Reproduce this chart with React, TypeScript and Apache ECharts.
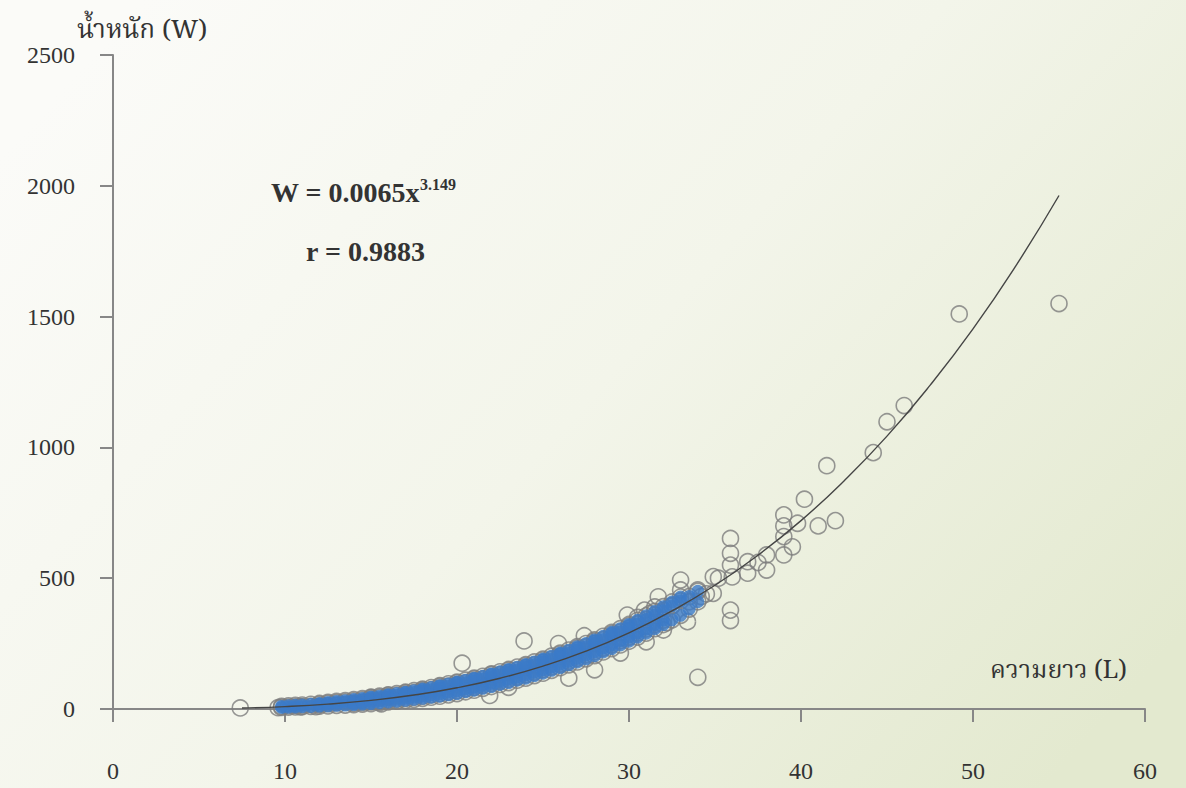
import React, { useEffect, useRef } from "react";
import * as echarts from "echarts";

// Axis ticks
const xTicks = [0, 10, 20, 30, 40, 50, 60];
const yTicks = [0, 500, 1000, 1500, 2000, 2500];

// Fitted curve W = 0.0065 L^3.149
const trendL = [7.5, 10, 12.5, 15, 17.5, 20, 22.5, 25, 27.5, 30, 32.5, 35, 37.5, 40, 42.5, 45, 47.5, 50, 52.5, 55];
const trendW = [3.7, 9.2, 18.5, 32.8, 53.3, 81.2, 117.7, 164, 221, 291, 375, 473, 588, 720, 872, 1043, 1237, 1453, 1695, 1963];

// Dense cloud of fish (blue band)
const denseL = [
  9.8, 9.8, 10.2, 10.2, 10.6, 10.6, 11.0, 11.0, 11.5, 11.5,
  12.0, 12.0, 12.0, 12.5, 12.5, 12.5, 13.0, 13.0, 13.0, 13.5, 13.5, 13.5,
  14.0, 14.0, 14.0, 14.0, 14.5, 14.5, 14.5, 14.5,
  15.0, 15.0, 15.0, 15.0, 15.0, 15.5, 15.5, 15.5, 15.5, 16.0, 16.0, 16.0, 16.0, 16.0, 16.5, 16.5, 16.5, 16.5,
  17.0, 17.0, 17.0, 17.0, 17.0, 17.5, 17.5, 17.5, 17.5, 18.0, 18.0, 18.0, 18.0, 18.0, 18.5, 18.5, 18.5, 18.5,
  19.0, 19.0, 19.0, 19.0, 19.0, 19.5, 19.5, 19.5, 19.5, 20.0, 20.0, 20.0, 20.0, 20.0, 20.5, 20.5, 20.5, 20.5,
  21.0, 21.0, 21.0, 21.0, 21.0, 21.5, 21.5, 21.5, 21.5, 22.0, 22.0, 22.0, 22.0, 22.0, 22.5, 22.5, 22.5, 22.5,
  23.0, 23.0, 23.0, 23.0, 23.0, 23.5, 23.5, 23.5, 23.5, 24.0, 24.0, 24.0, 24.0, 24.0, 24.5, 24.5, 24.5, 24.5,
  25.0, 25.0, 25.0, 25.0, 25.0, 25.5, 25.5, 25.5, 25.5, 26.0, 26.0, 26.0, 26.0, 26.0, 26.5, 26.5, 26.5, 26.5,
  27.0, 27.0, 27.0, 27.0, 27.0, 27.5, 27.5, 27.5, 27.5, 28.0, 28.0, 28.0, 28.0, 28.0, 28.5, 28.5, 28.5, 28.5,
  29.0, 29.0, 29.0, 29.0, 29.0, 29.5, 29.5, 29.5, 29.5, 30.0, 30.0, 30.0, 30.0, 30.0, 30.5, 30.5, 30.5, 30.5,
  31.0, 31.0, 31.0, 31.0, 31.5, 31.5, 31.5, 31.5, 32.0, 32.0, 32.0, 32.0, 32.5, 32.5, 32.5,
  33.0, 33.0, 33.0, 33.5, 33.5, 34.0, 34.0
];
const denseW = [
  6, 10, 7, 12, 8, 14, 9, 15, 10, 18,
  11, 21, 18, 12, 25, 21, 14, 29, 24, 15, 32, 27,
  17, 36, 31, 22, 19, 40, 35, 25,
  21, 45, 39, 27, 43, 24, 49, 44, 30, 27, 54, 47, 34, 52, 30, 59, 53, 37,
  33, 64, 57, 41, 62, 37, 70, 63, 45, 41, 76, 68, 49, 73, 45, 82, 74, 54,
  49, 89, 80, 59, 86, 54, 96, 87, 65, 59, 103, 93, 70, 100, 66, 110, 100, 77,
  72, 118, 108, 83, 115, 79, 125, 115, 91, 86, 134, 123, 98, 131, 94, 142, 131, 106,
  101, 151, 140, 114, 148, 110, 160, 149, 122, 118, 170, 159, 131, 166, 128, 180, 169, 141,
  137, 191, 179, 151, 187, 148, 202, 190, 161, 158, 214, 202, 172, 210, 169, 225, 213, 183,
  180, 238, 225, 194, 233, 192, 250, 237, 207, 204, 264, 251, 219, 259, 218, 278, 265, 233,
  231, 293, 280, 246, 288, 245, 307, 294, 261, 259, 323, 309, 275, 318, 275, 339, 325, 291,
  290, 356, 342, 306, 307, 373, 359, 323, 323, 391, 376, 340, 341, 409, 394,
  358, 428, 413, 382, 430, 410, 450
];

// Individual fish outside the dense band
const sparseL = [
  7.4, 9.6, 10.9, 11.8,
  15.6, 20.3, 21.9, 23.0, 23.9, 25.9, 26.5, 27.4, 28.0, 29.5, 29.9,
  30.5, 30.9, 31.0, 31.2, 31.5, 31.7, 32.0, 32.2, 32.5, 33.0, 33.0, 33.4, 33.5, 34.0, 34.0,
  34.2, 34.5, 34.9, 34.9, 35.2, 35.9, 35.9, 35.9, 35.9, 35.9, 36.0, 36.9, 36.9, 37.5,
  38.0, 38.0, 39.0, 39.0, 39.0, 39.0, 39.5, 39.8, 40.2, 41.0, 41.5, 42.0,
  44.2, 45.0, 46.0, 49.2, 55.0
];
const sparseW = [
  4, 5, 8, 9,
  20, 175, 52, 83, 260, 250, 118, 280, 150, 214, 359,
  350, 378, 257, 365, 390, 429, 302, 330, 395, 493, 455, 334, 410, 455, 121,
  430, 440, 506, 442, 500, 652, 595, 550, 378, 338, 505, 563, 519, 560,
  531, 589, 742, 700, 659, 589, 620, 710, 802, 700, 930, 720,
  980, 1098, 1160, 1510, 1550
];

const pairs = (xs: number[], ys: number[]) => xs.map((x, i) => [x, ys[i]]);

const SERIF = "Liberation Serif";
const THAI = "'Noto Serif Thai', 'Noto Sans Thai', 'Liberation Serif', sans-serif";

export default function App() {
  const ref = useRef<HTMLDivElement>(null);

  useEffect(() => {
    if (!ref.current) return;
    const chart = echarts.init(ref.current, null, { renderer: "svg" });
    const hollow = {
      color: "rgba(0,0,0,0)",
      borderColor: "#7d7d7d",
      borderWidth: 1.6,
    };
    const axisStyle = {
      axisLine: { show: true, onZero: false, lineStyle: { color: "#878787", width: 2 } },
      axisTick: { show: true, inside: false, length: 13, lineStyle: { color: "#878787", width: 2 } },
      splitLine: { show: false },
    };
    chart.setOption({
      animation: false,
      textStyle: { fontFamily: SERIF },
      backgroundColor: new echarts.graphic.LinearGradient(0, 0.2, 1, 0.8, [
        { offset: 0, color: "#fbfbf8" },
        { offset: 0.5, color: "#f3f5ea" },
        { offset: 1, color: "#e3e9cf" },
      ]),
      grid: {
        left: 113,
        right: 41,
        top: 55,
        bottom: 79,
        containLabel: false,
        outerBoundsMode: "none",
      },
      xAxis: {
        type: "value",
        min: xTicks[0],
        max: xTicks[xTicks.length - 1],
        interval: 10,
        ...axisStyle,
        axisLabel: {
          margin: 50,
          fontFamily: SERIF,
          fontSize: 24,
          color: "#333",
          formatter: (v: number) => String(v),
        },
      },
      yAxis: {
        type: "value",
        min: yTicks[0],
        max: yTicks[yTicks.length - 1],
        interval: 500,
        ...axisStyle,
        axisLabel: {
          margin: 38,
          fontFamily: SERIF,
          fontSize: 24,
          color: "#333",
          formatter: (v: number) => String(v),
        },
      },
      graphic: [
        {
          type: "text",
          left: 77,
          top: 18,
          style: { text: "น้ำหนัก (W)", font: `26px ${THAI}`, fill: "#333" },
        },
        {
          type: "text",
          left: 990,
          top: 658,
          style: { text: "ความยาว (L)", font: `25px ${THAI}`, fill: "#333" },
        },
        {
          type: "text",
          left: 271,
          top: 176,
          style: {
            text: "{m|W = 0.0065x}{s|3.149}",
            rich: {
              m: { fontFamily: SERIF, fontWeight: "bold", fontSize: 28, fill: "#333", verticalAlign: "bottom" },
              s: { fontFamily: SERIF, fontWeight: "bold", fontSize: 16, fill: "#333", verticalAlign: "top", padding: [0, 0, 14, 0] },
            },
          },
        },
        {
          type: "text",
          left: 306,
          top: 237,
          style: { text: "r = 0.9883", font: `bold 28px ${SERIF}`, fill: "#333" },
        },
      ],
      series: [
        {
          type: "scatter",
          name: "dense-outline",
          data: pairs(denseL, denseW),
          symbol: "circle",
          symbolSize: 16,
          itemStyle: hollow,
          z: 2,
        },
        {
          type: "scatter",
          name: "sparse",
          data: pairs(sparseL, sparseW),
          symbol: "circle",
          symbolSize: 16,
          itemStyle: hollow,
          z: 2,
        },
        {
          type: "scatter",
          name: "dense-fill",
          data: pairs(denseL, denseW),
          symbol: "circle",
          symbolSize: 13,
          itemStyle: { color: "#3b7bc8" },
          z: 3,
        },
        {
          type: "line",
          name: "trend",
          data: pairs(trendL, trendW),
          smooth: true,
          showSymbol: false,
          symbol: "none",
          lineStyle: { color: "#454545", width: 1.4 },
          z: 4,
        },
      ],
    });
    return () => chart.dispose();
  }, []);

  return (
    <div
      ref={ref}
      style={{ position: "fixed", left: 0, top: 0, width: 1186, height: 788 }}
    />
  );
}
